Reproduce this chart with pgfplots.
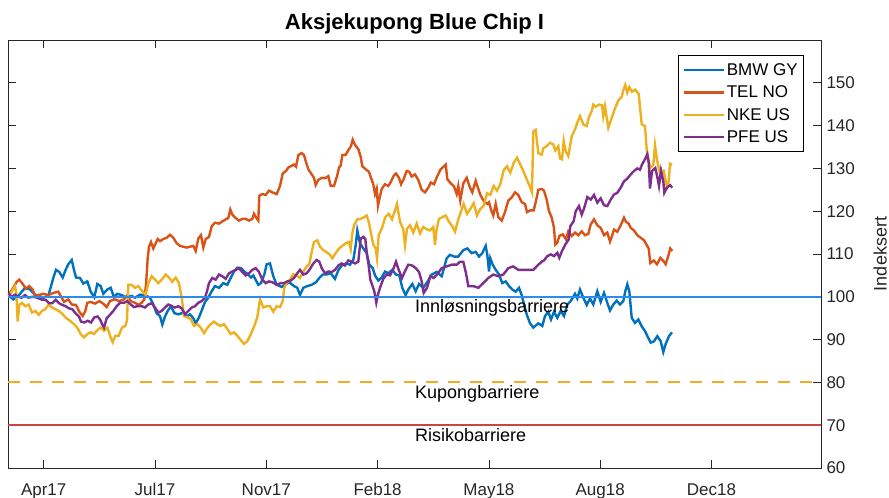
\documentclass[border=0pt]{standalone}
\usepackage{fontspec}
\setmainfont{Liberation Sans}
\usepackage{pgfplots}
\pgfplotsset{compat=1.18}
\definecolor{cBMW}{rgb}{0,0.447,0.741}
\definecolor{cTEL}{rgb}{0.85,0.325,0.098}
\definecolor{cNKE}{rgb}{0.929,0.694,0.125}
\definecolor{cPFE}{rgb}{0.494,0.184,0.556}
\definecolor{cInn}{RGB}{45,140,235}
\definecolor{cKup}{RGB}{250,170,30}
\definecolor{cRis}{RGB}{200,70,70}
\definecolor{axgray}{rgb}{0.15,0.15,0.15}
\begin{document}
\begin{tikzpicture}
\begin{axis}[
  scale only axis,
  width=813pt, height=428pt,
  xmin=8, xmax=821, ymin=60, ymax=160,
  xtick={43.7,155,266.3,377.6,488.9,600.2,711.5},
  xticklabels={Apr17,Jul17,Nov17,Feb18,May18,Aug18,Dec18},
  ytick={60,70,...,150},
  yticklabel pos=right,
  tick align=inside,
  major tick length=8pt,
  axis line style={draw=axgray, line width=0.8pt},
  major tick style={draw=axgray, line width=0.8pt},
  tick label style={font=\fontsize{17}{20}\selectfont, text=axgray, /pgf/number format/assume math mode=true},
  xticklabel style={anchor=base, yshift=-27pt},
  yticklabel style={xshift=2pt},
  title={Aksjekupong Blue Chip I},
  title style={at={(0.5,1)}, anchor=base, yshift=4pt, inner sep=0pt, font=\bfseries\fontsize{22}{26}\selectfont},
  ylabel={Indeksert},
  ylabel style={at={(rel axis cs:1.0806,0.5)}, anchor=base, font=\fontsize{18}{22}\selectfont, text=axgray},
  legend style={at={(1,1)}, anchor=north east, xshift=-17pt, yshift=-15pt, font=\fontsize{17}{20}\selectfont, draw=black, line width=0.8pt, inner xsep=4pt, inner ysep=6pt, row sep=5pt},
  legend cell align=left,
  legend image code/.code={\draw[#1, line width=2.4pt] (0pt,0pt) -- (40pt,0pt);},
]
\addplot[cBMW, line width=2.4pt] table {
x y
8.3 100.4
13.3 99.4
18.3 100.2
25 102.1
30 101.7
35 100.5
43.3 99.8
48.3 100.2
53.3 104.4
56 106.3
59.3 105.8
62.7 104.5
66 106.5
68.3 107.6
71.7 108.6
74 106.3
76 104.5
80 104.4
83.3 103.1
87.3 103.6
90.7 101.2
94.3 99.9
97.3 103
100.7 102.5
103.3 100.7
107.3 101.7
110.7 102.1
114 99.9
117.3 100.7
121.7 100.4
126 99.9
131.7 100.2
135 99.8
140 100.5
145 100.4
150 99.8
153.3 98.2
156.7 96.1
160 95.5
162.3 93.5
165 95.4
167.7 96.7
171 97.8
174.3 96.2
178.3 95.9
183.3 96.3
186.7 95.4
190 95.9
193.3 95
195.7 93.8
199 95.2
201.7 96.8
205 98.8
208.3 99.8
211.7 101.3
215 102.5
219 102.1
223.3 103.2
227.3 102.8
230.7 104.4
234 105.9
237.3 106.8
241 106.7
244.3 105.9
247.7 105.3
251 104.5
253.3 105
258.3 102.8
261 103.2
264.3 105.2
266.7 107.6
270 107.8
273.3 104.8
276.7 102.8
281.7 102.3
285 102.8
289.3 103.4
294 102.5
297.3 102.1
300 100.4
303.3 102.1
307.3 102.5
311.7 102.8
316 103.4
319.3 104.4
322.7 105.2
326.7 105.2
330.7 105.5
335 104.2
338.3 106.2
341.7 107.3
346 107.8
350 107.5
353.3 108.6
355.7 112.1
357.3 115.5
360 112.5
363.3 111.3
366.7 110.2
369.3 107.5
372.7 106.7
375 105
378.3 103.8
381.7 104.5
385 105.9
388.3 105.5
392.3 106.3
396 105.2
399.3 105
402.3 102.1
405.5 100.4
408.3 101.7
412.3 103
415.7 101.3
419 103
423.3 102.1
427.7 103.6
431.7 105.2
436.7 105.8
441.7 104.8
446.7 109
450 109.8
454.3 109.4
458.3 109.4
463.3 110.9
467.3 111.3
471.7 110.2
475.7 110.5
479 109.4
482.3 110.2
485.7 111.9
487.3 109.8
489 105.9
490.3 109
492.7 107.5
495.7 106.3
499 105.2
502.3 103.2
505.7 103.6
509 102.5
512.3 101.7
515.7 101.2
519 102.1
521.7 100.4
524 98.2
526.7 95.9
530 93.8
533.3 92.8
538.3 93.8
542.3 93.2
545 95.5
548.3 96.5
551 94.7
554 96.5
557.3 95.1
560.7 96.7
564 95.5
567.3 98.2
570.7 99
575 100.7
577.3 99.6
580 101.7
583.3 99.8
586.7 98.1
590 99.6
593.3 98.2
597.3 101.3
600.7 98.8
604 100.9
606.7 99
610 96.8
613.3 98.2
616.7 99.1
620 98.2
623.3 99
625.3 101.3
627.3 102.9
629.3 101.3
631.7 95.1
635 93.9
638.3 94.7
641.7 93.1
645 92
648.3 90.4
650.7 89.3
654 89.6
657.3 90.8
660.7 89.6
663.3 87.1
665.7 89
669 90.8
672 91.7
};
\addlegendentry{BMW GY}
\addplot[cTEL, line width=2.4pt] table {
x y
8.3 100.4
12.7 101.9
16.7 103.5
19.3 104
22.7 103
26 101.9
29.3 102.5
32.7 101.7
35 100.2
38.3 100.4
43.3 100.7
48.3 100.4
53.3 100.9
58.3 101.2
61.7 99.8
64 98.8
68.3 99.4
71.7 98.2
76 98.1
79.3 96.5
82.7 95.5
85.3 96.7
87.3 98.6
90.7 98.8
95 98.4
99.3 99
103.3 98.4
106.7 97.6
110 99
115 99.4
119.3 99
124 99.4
127.3 100.4
130.7 99
135 98.6
138.3 98.1
141.7 98.6
144.3 99.4
146 102.8
147.7 109
149 111.7
151 112.8
153.3 111.3
155.7 112.5
157.7 113.5
160 113
163.3 113.5
166.7 113.8
170 114.5
173.3 113.8
176.7 112.5
180 111.9
183.3 111.7
186.7 111.5
190 111.7
193.3 111.9
195.7 110.7
198.3 113.6
201 114.4
203.3 111.5
205.7 113.5
209 114
211.7 116.5
215 117.3
219 117.1
222.3 117.6
225.7 118.1
228.3 118.4
230.3 120.4
232.3 119.2
235.7 118.4
239 117.8
242.3 118.2
245.7 118.2
249 117.8
252.3 118.2
254 119.4
257 118.2
258.3 117.8
259.3 123.6
262.3 124
265.7 123.8
269 124.8
272.3 124.4
276.7 124
280 125.9
282.7 128.8
286 129.4
288.3 130.2
290.7 130.5
294 130.9
296 130.4
298.3 133.1
301.7 133.6
304 133.1
306 131.5
308.3 129.8
311.7 128.6
314 127.8
315.7 126.1
318.3 127.3
321.7 127.8
325 127.7
328.3 128.2
330.7 125.9
334 125.9
337.3 128.4
339 130.2
340.7 130.7
342.3 133.1
345.7 133.2
349 134.5
351 135.2
352.7 136.7
355 135.5
358.3 134.5
360.7 132.7
362.3 130.5
365.7 129.8
369 129.2
371 127.8
373.3 126.3
375 124
376.7 125.2
378 121.3
379.3 122.8
381.7 125.2
385 126.3
388.3 125.9
390.7 126.8
394 128.4
396 128.8
399 127.8
401 126.3
403.3 127.3
406.7 129.4
409.3 129.2
411.7 128.1
415 128.6
418.3 127.3
421.7 125
425 124.4
428.3 125.5
430.7 126.7
434 126.3
437.3 128.2
440.7 129.8
444 130.5
445.7 130.9
447.3 127.5
450.7 126.5
454 125.8
456.7 124
458.3 125.9
460.3 122.5
463.3 126.5
466.7 127.8
470 125.5
472.3 124.4
475.7 127.1
477.3 125.9
480.7 123.6
484 122.3
487.3 121.7
489 122.1
491 120.4
493.3 119
495.7 121.7
498.3 118.6
501.7 117.8
505 119.8
508.3 122.5
511.7 123.2
515 124.4
518.3 123.8
521.7 122.1
525 121.7
527 119.8
530.3 120.2
533.7 120.2
535.7 122.1
538.3 125
541.7 125.2
544 124.8
546.7 122.7
549 120
551.7 118.5
554 116.1
555.3 112.2
557.3 112.6
559.3 114.2
562.7 114.6
566 113.4
568.3 115.3
571.7 114.2
575 115
578.3 114.4
581.7 115.3
585 114.4
588.3 114.7
590.7 116.9
594 118.1
597.3 116.7
600.7 116.1
604 114.4
607.3 115
610 112.9
612 114.2
614 115.7
617.3 115.2
620.7 116.7
624 118.5
626 117.5
628.7 117.1
630.7 116.1
634 115.5
637.3 114.4
640.7 113.8
644 113.2
646.7 112.1
648.7 111.3
650.3 107.9
653.7 108.5
657 107.6
660.3 109.1
663.7 108.3
665.7 107.6
668.7 109.9
670.3 111.3
672.3 110.7
};
\addlegendentry{TEL NO}
\addplot[cNKE, line width=2.4pt] table {
x y
8.3 100.2
11.7 101.2
15 102.5
16.3 100.9
17.7 94.2
19.3 98.1
22 98.6
25.3 97.8
28.7 98.2
32 96.3
35.3 96.7
38.7 95.8
42 96.7
45.3 97.1
48.7 98.2
52 97.5
55.3 97.1
58.7 96.7
62 96.1
65.3 95.2
70 94.4
74 93.6
77.3 92.8
80.7 91.3
84 90.5
87.3 91.3
90.7 91.7
94 91.3
97.3 92.2
100.7 92.8
104 92.1
107.3 92.8
110.7 90.5
112.7 89.4
115.3 90.9
118.7 90.9
122 92.8
125.3 93.2
127 94.5
128.3 102.8
131.7 102.8
135 102.1
138.3 102.5
142.3 101.3
145.7 100.5
148.3 103.2
151.7 104.8
155 104
158.3 103.2
161.7 104
165.7 105.2
169 104.5
172.3 103.5
175.7 104.5
179 103.2
181.7 99.8
184 95.5
187.3 95.2
190.7 94.8
194 93.2
197.3 93.6
200.7 92.8
204 91.5
207.3 92.7
210.7 93.6
214 94.2
217.3 93.6
220.7 93.2
224 93.6
227.3 92.5
230.7 91.3
234 91.7
237.3 90.9
240.7 89.9
244 89
247.3 89.6
250.7 91.2
254 93
257.3 95.2
260 99.4
263.3 97.5
266.7 97.8
270 97.8
273.3 96.5
276.7 97.8
280 97.6
282.7 99
284.3 102.1
286.7 103.2
290 104
293.3 105.3
296.7 105
300 104.4
303.3 105.9
306.7 107.1
309.3 107.6
311.7 110.5
314 112.8
317.3 113.2
320 111.7
323.3 110.9
326.7 110.4
330 109.8
332.3 109
335.7 110.2
339 111.3
342.3 111.9
345.7 112.5
349 112.8
350.7 111.2
352.3 114.8
354 116.7
357.3 118.1
360.7 118.2
364 118.6
366.7 119
369 117.3
371 114.8
373.3 112.2
375.7 111.3
377 109
378.7 114.4
382 116.1
385.3 118.6
388.7 119.4
392 118.1
395.3 120.4
397 121.7
400 117.5
403.3 115.8
405 112.1
407 115.9
410 116.7
413.3 115
416.7 117.1
420 114.8
423.3 116.3
426.7 115.8
430 115.5
433.3 116.3
435 112.1
436.7 115.9
439 118.2
442.3 118.6
445.7 119
449 117.5
452.3 116.5
455 115.2
458.3 118.1
461.7 120.4
463.7 121.7
467 119.4
470.3 120.5
473.7 121.9
477 119
480.3 120.5
483.7 121.3
487 124.2
490.3 123.8
493.7 125.9
497 124.8
500.3 126.3
503.7 129.6
507 130.5
510.3 129
513.7 131.3
517 132.5
520.3 130.9
523.7 129.2
527 127.3
530.3 125.5
532 124.4
533.3 138.6
535.7 139
538.3 133.6
541.7 133.2
543.3 134.7
546.7 135.2
550 136
553.3 135.6
555.3 134.2
558.3 135.2
560 132.3
562 132.1
563.7 136.4
565.7 134
568.3 132.9
571.7 137.5
575 139.1
577.3 140.7
580 142.2
583.3 140.3
586.7 139.9
588.7 141.8
591.7 143.4
593.3 144.9
595.7 144.4
599 144.9
602 144.8
603.3 142.2
605 144.5
608.3 139.5
611.7 141.8
615 144
618.3 145.9
621.7 146.7
623.3 148.2
625.3 149.5
627.3 147.7
629.3 149
632 147.9
635.3 148.4
638.7 147.4
641.7 140.3
645 139.9
646.7 134.4
648.3 132.3
650.3 130.1
653.3 130.8
655 135.4
657 132.1
658.7 130.1
660.3 128.6
663.7 129.4
666.7 125.9
668.7 127
670 131.1
672 130.8
};
\addlegendentry{NKE US}
\addplot[cPFE, line width=2.4pt] table {
x y
8.3 100.9
11.7 100
15 100.5
18.3 100
21.7 99.8
25 100.4
28.3 99.8
32.3 100
35.7 99.9
39 99.6
42.3 99.3
45.7 99.3
49 98.5
52.3 98.5
55.7 99.3
59 98.5
62.3 98.1
65.7 97.8
69 97.3
72.3 97.1
75.7 96.1
79 95.4
81 94.2
84.3 94
87.7 94.4
91 94
94.3 95.2
97.7 95.4
100.3 94.6
102.3 93.5
104 92.8
106.7 95
110 95.8
113.3 96.7
116.7 97.8
120 98.6
124 98.6
127.3 99
130.7 98.2
134 97.6
137.3 97.8
141.7 97.8
145 97.5
148.3 98.2
151.7 98.5
155 97.5
158.3 96.3
161.7 96.7
165 97.5
168.3 98.2
171.7 97.8
175 97.5
178.3 97.8
181.7 97.3
185 95.9
188.3 96.7
191.7 97.5
195 97.8
198.3 98.6
201.7 99
205 99.8
207 101.3
209 103.2
212.3 104.4
215.7 104
219 105.2
222.3 104.8
225.7 104.2
229 105.5
232.3 105.9
235.7 106.3
239 106.7
242.3 105.8
245.7 105
249 105.5
252.3 106.3
255.7 106.7
259 105.8
262.3 104
265.7 103.2
269 103.6
272.3 103.4
276.7 102.8
280.7 103.2
284 103.2
287.3 103.6
290.7 103.8
294 104.4
297.3 105.5
300 106.3
303.3 105.2
306.7 105.5
310 106.5
313.3 107.8
316.7 108.6
319.3 108.2
321.7 106.7
325 105.5
328.3 105.9
331.7 105.8
335 106.3
338.3 107.3
341.7 107.8
345 107.3
348.3 108.5
351.7 108.2
355 107.8
358.3 108.2
360.7 113.6
363.3 114
365.3 113.5
367 109.8
368.7 107.3
370.3 104
372.3 102.7
374.3 101.3
376.3 98.6
378 100.5
380 102.1
383.3 104.2
386.7 105.2
390 105
393.3 106.5
396 108.2
398.7 106.3
402 104.4
405 106
408.3 107.5
412.3 107.3
415.7 106.7
419 105.8
421.7 103.6
423.7 100.9
427 102.1
430.3 104.8
433.7 104.4
437 105.2
441.7 106.7
446.7 107.1
451.7 107.5
456.7 107.5
460 108.2
463.3 108.2
466 105.5
468.3 102.5
473.3 102.5
478.3 102.1
483.3 103.2
488.3 104.4
493.3 105.2
498.3 104.8
503.3 105.2
508.3 106.7
513.3 107.1
518.3 106.3
523.3 106.3
528.3 106.3
533.3 106.3
538.3 107.5
542.3 108.3
544 108.5
547.3 109.5
550.7 109.9
554 109.5
557.3 110.3
559.3 109.1
562 110.7
565.3 112.2
568.7 113.4
570.3 116.5
573.7 117.7
575.7 120
579 121.2
581.7 119.2
584 120.6
587.3 123.3
590.7 122.7
594 123.8
597.3 122
600.7 123
604 121.4
607.3 121.2
610.7 122.7
614 123.9
617.3 124.3
620.7 125.5
624 127
627.3 127.6
630.7 128.6
634 129.4
637.3 130
640 129.7
642 130.9
645.3 132.3
647.3 133.3
648.7 131.3
650 125.3
652 129.4
655.3 130.1
657.3 128
659 125.9
661 129.5
663.3 127
664.3 124.3
667 125.5
670 126.1
672.3 125.5
};
\addlegendentry{PFE US}
\addplot[cInn, line width=1.8pt, forget plot] coordinates {(8,100) (821,100)};
\addplot[cKup, line width=1.8pt, dash pattern=on 12pt off 10pt, forget plot] coordinates {(8,80) (821,80)};
\addplot[cRis, line width=1.8pt, forget plot] coordinates {(8,70) (821,70)};
\node[anchor=base west, inner sep=0pt, font=\fontsize{18}{22}\selectfont] at (axis cs:415,96.3) {Innløsningsbarriere};
\node[anchor=base west, inner sep=0pt, font=\fontsize{18}{22}\selectfont] at (axis cs:415,76.3) {Kupongbarriere};
\node[anchor=base west, inner sep=0pt, font=\fontsize{18}{22}\selectfont] at (axis cs:415,66.2) {Risikobarriere};
\end{axis}
\pgfresetboundingbox
\path[use as bounding box] ([xshift=-8pt,yshift=-30pt]current axis.south west) rectangle ([xshift=68pt,yshift=40pt]current axis.north east);
\end{tikzpicture}
\end{document}
